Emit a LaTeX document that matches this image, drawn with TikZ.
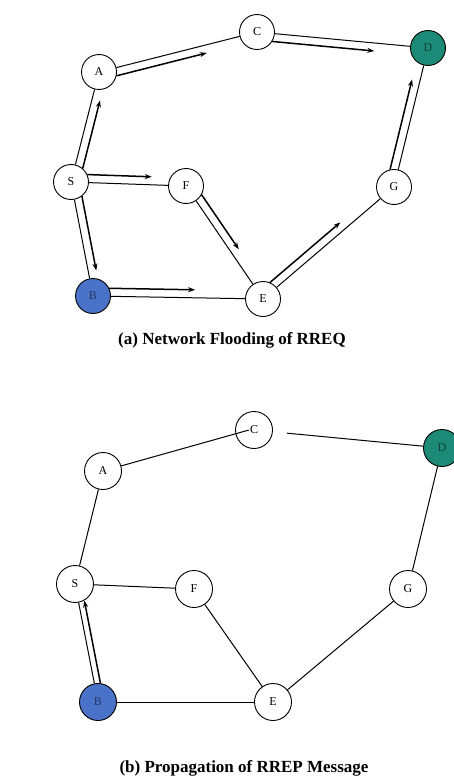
\documentclass[tikz,border=0pt]{standalone}
\usepackage{fontspec}
\setmainfont{Liberation Serif}
\usepackage{tikz}
\usetikzlibrary{positioning,arrows.meta,calc}
\usepackage{xcolor}
\definecolor{srcblue}{RGB}{74,114,200}
\definecolor{dstteal}{RGB}{28,138,118}

\begin{document}
\begin{tikzpicture}[x=1pt,y=-1pt,
    host/.style={circle, draw, line width=0.9pt, minimum size=35pt, inner sep=0pt, font=\fontsize{12}{13}\selectfont},
    big/.style={minimum size=37pt},
    link/.style={line width=1pt},
    flood/.style={line width=1.5pt, -{Stealth[length=7pt,width=5pt]}},
    caption/.style={font=\fontsize{17}{19}\selectfont\bfseries}]
  \useasboundingbox (0,0) rectangle (453,781);
  % (a) network flooding
  \node[host] (A) at (99,72) {A};
  \node[host] (C) at (257,32) {C};
  \node[host, fill=dstteal, text=dstteal!50!black] (D) at (428,48) {D};
  \node[host] (S) at (71,182) {S};
  \node[host] (F) at (186,186) {F};
  \node[host] (G) at (394,187) {G};
  \node[host, fill=srcblue, text=srcblue!50!black] (B) at (93,296) {B};
  \node[host] (E) at (263,299) {E};
  % edges
  \draw[link] (A) -- (C);
  \draw[link] (C) -- (D);
  \draw[link] (S) -- (A);
  \draw[link] (S) -- (F);
  \draw[link] (F) -- (E);
  \draw[link] (S) -- (B);
  \draw[link] (B) -- (E);
  \draw[link] (E) -- (G);
  \draw[link] (G) -- (D);
  % RREQ arrows, beside each edge
  \draw[flood] ($(A)!16pt!(C)!8pt!-90:(C)$) -- ($(A)!0.67!(C)!8pt!-90:(C)$);
  \draw[flood] ($(C)!16pt!(D)!8pt!-90:(D)$) -- ($(C)!0.69!(D)!8pt!-90:(D)$);
  \draw[flood] ($(S)!16pt!(A)!8pt!-90:(A)$) -- ($(S)!0.76!(A)!8pt!-90:(A)$);
  \draw[flood] ($(S)!16pt!(F)!8pt!90:(F)$) -- ($(S)!0.7!(F)!8pt!90:(F)$);
  \draw[flood] ($(F)!16pt!(E)!8pt!90:(E)$) -- ($(F)!0.6!(E)!8pt!90:(E)$);
  \draw[flood] ($(S)!16pt!(B)!8pt!90:(B)$) -- ($(S)!0.79!(B)!8pt!90:(B)$);
  \draw[flood] ($(B)!16pt!(E)!8pt!90:(E)$) -- ($(B)!0.6!(E)!8pt!90:(E)$);
  \draw[flood] ($(E)!16pt!(G)!8pt!90:(G)$) -- ($(E)!0.63!(G)!8pt!90:(G)$);
  \draw[flood] ($(G)!16pt!(D)!8pt!90:(D)$) -- ($(G)!0.76!(D)!8pt!90:(D)$);
  \node[caption] (capa) at (232,340) {(a) Network Flooding of RREQ};

  % (b) route reply
  \node[host, big] (A2) at (103,471) {A};
  \node[host, big] (C2) at (254,430) {C};
  \node[host, big, fill=dstteal, text=dstteal!50!black] (D2) at (442,448) {D};
  \node[host, big] (S2) at (75,584) {S};
  \node[host, big] (F2) at (194,589) {F};
  \node[host, big] (G2) at (408,589) {G};
  \node[host, big, fill=srcblue, text=srcblue!50!black] (B2) at (98,702) {B};
  \node[host, big] (E2) at (273,702) {E};
  % edges
  \draw[link] (A2) -- ([xshift=-5pt]C2.center);
  \draw[link, shorten <=14pt] (C2) -- (D2);
  \draw[link] (S2) -- (A2);
  \draw[link] (S2) -- (F2);
  \draw[link] (F2) -- (E2);
  \draw[link] (S2) -- (B2);
  \draw[link] (B2) -- (E2);
  \draw[link] (E2) -- (G2);
  \draw[link] (G2) -- (D2);
  % RREP arrow
  \draw[flood] ($(B2)!18pt!(S2)!6pt!-90:(S2)$) -- ($(S2)!18pt!(B2)!6pt!90:(B2)$);
  \node[caption] (capb) at (244,768) {(b) Propagation of RREP Message};
\end{tikzpicture}
\end{document}
